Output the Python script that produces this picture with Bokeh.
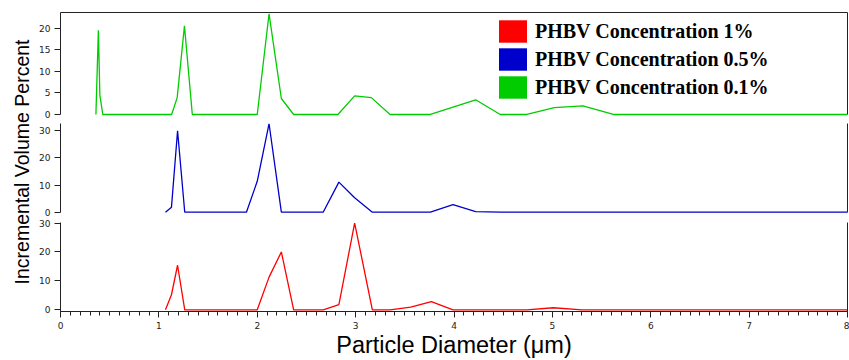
import numpy as np
from bokeh.plotting import figure
from bokeh.models import (Range1d, LinearAxis, FixedTicker, SingleIntervalTicker,
                          Legend, LegendItem, ColumnDataSource)
from bokeh.layouts import column, row
from bokeh.embed import file_html
from bokeh.resources import INLINE

# ---- data ----
green_x = [0.36, 0.385, 0.40, 0.43, 1.13, 1.186, 1.26, 1.34, 2.0, 2.12, 2.245, 2.37,
           2.82, 2.99, 3.16, 3.35, 3.76, 4.22, 4.47, 4.74, 5.02, 5.31, 5.62, 8.0]
green_y = [0, 19.5, 4.5, 0, 0, 3.9, 20.5, 0, 0, 23.3, 3.7, 0,
           0, 4.3, 3.9, 0, 0, 3.4, 0, 0, 1.6, 2.0, 0, 0]

blue_x = [1.067, 1.128, 1.19, 1.263, 1.89, 2.0, 2.12, 2.245, 2.67, 2.83, 2.99, 3.17,
          3.76, 3.99, 4.22, 4.47, 8.0]
blue_y = [0, 1.8, 30, 0, 0, 11.4, 32.6, 0, 0, 11.1, 5.3, 0,
          0, 2.8, 0.2, 0, 0]

red_x = [1.067, 1.128, 1.19, 1.263, 2.0, 2.12, 2.245, 2.37, 2.67, 2.83, 2.99, 3.17,
         3.35, 3.56, 3.77, 3.99, 4.74, 5.01, 5.30, 8.0]
red_y = [0, 5.2, 15.4, 0, 0, 11.3, 20.0, 0, 0, 1.8, 30.0, 0,
         0, 0.9, 2.8, 0, 0, 0.7, 0, 0]

series_labels = ["PHBV Concentration 1%", "PHBV Concentration 0.5%", "PHBV Concentration 0.1%"]
series_colors = ["#ff0000", "#0000cc", "#00cc00"]

top_ticks = [0, 5, 10, 15, 20]
mid_ticks = [0, 10, 20, 30]
bot_ticks = [0, 10, 20, 30]

TOTAL_W = 849
LABEL_W = 36
W = TOTAL_W - LABEL_W
LB = 24
RB = 2
AXC = "#222222"
TICK_FONT = "DejaVu Sans"
TICK_SIZE = "9px"
x_range = Range1d(0, 8)


def empty_axis(bounds="auto"):
    return LinearAxis(ticker=FixedTicker(ticks=[]), axis_line_color=AXC, bounds=bounds,
                      major_tick_line_color=None, minor_tick_line_color=None,
                      major_label_text_font_size="0px", major_label_standoff=0)


def base_fig(height, y_range, top, bottom, bounds="auto"):
    p = figure(width=W, height=height, x_range=x_range, y_range=y_range,
               output_backend="svg", toolbar_location=None,
               min_border_left=LB, min_border_right=RB,
               min_border_top=top, min_border_bottom=bottom,
               x_axis_location=None, y_axis_location="left")
    p.grid.visible = False
    p.outline_line_color = None
    yax = p.yaxis[0]
    yax.bounds = bounds
    yax.axis_line_color = AXC
    yax.major_tick_line_color = AXC
    yax.major_tick_out = 6
    yax.major_tick_in = 0
    yax.minor_tick_line_color = None
    yax.major_label_text_font = TICK_FONT
    yax.major_label_text_font_size = TICK_SIZE
    yax.major_label_text_color = AXC
    yax.major_label_standoff = 4
    p.add_layout(empty_axis(bounds), "right")
    return p


# y-axis title column
p_lab = figure(width=LABEL_W, height=360, x_range=Range1d(0, 1), y_range=Range1d(0, 1),
               output_backend="svg", toolbar_location=None,
               min_border_left=34, min_border_right=0, min_border_top=12, min_border_bottom=49,
               x_axis_location=None, y_axis_location="left")
p_lab.grid.visible = False
p_lab.outline_line_color = None
ylab = p_lab.yaxis[0]
ylab.ticker = FixedTicker(ticks=[])
ylab.axis_line_color = None
ylab.major_tick_line_color = None
ylab.minor_tick_line_color = None
ylab.major_label_text_font_size = "0px"
ylab.major_label_standoff = 0
ylab.axis_label = "Incremental Volume Percent"
ylab.axis_label_text_font = "Liberation Sans"
ylab.axis_label_text_font_size = "19.5px"
ylab.axis_label_text_font_style = "normal"
ylab.axis_label_text_color = "black"
ylab.axis_label_standoff = 2

# top panel (0.1%)
TOP_END = 23.6
p_top = base_fig(120, Range1d(-1.39, TOP_END), 12, 0, bounds=(0, TOP_END))
p_top.yaxis[0].ticker = FixedTicker(ticks=top_ticks)
p_top.add_layout(empty_axis(), "above")
p_top.line(green_x, green_y, line_color=series_colors[2], line_width=1.3)

# legend swatches (renderers without visible marks)
items = []
for lab, col in zip(series_labels, series_colors):
    nan = np.array([np.nan])
    r = p_top.quad(source=ColumnDataSource(dict(l=nan, r=nan, t=nan, b=nan)),
                   left="l", right="r", top="t", bottom="b",
                   fill_color=col, line_color=None)
    items.append(LegendItem(label=lab, renderers=[r]))
legend = Legend(items=items, location=(435, 19),
                glyph_width=35, glyph_height=28, label_height=28, spacing=0,
                padding=0, margin=0, label_standoff=5,
                label_text_font="Liberation Serif", label_text_font_style="bold",
                label_text_font_size="20px", label_text_color="black",
                border_line_color=None, background_fill_alpha=0)
p_top.add_layout(legend, "center")

# middle panel (0.5%)
MID_END = 32.69
p_mid = base_fig(97, Range1d(-1.95, MID_END), 3, 0, bounds=(0, MID_END))
p_mid.yaxis[0].ticker = FixedTicker(ticks=mid_ticks)
p_mid.line(blue_x, blue_y, line_color=series_colors[1], line_width=1.3)

# bottom panel (1%)
p_bot = base_fig(143, Range1d(-0.59, 30.18), 5, 49)
p_bot.yaxis[0].ticker = FixedTicker(ticks=bot_ticks)
xax = LinearAxis(ticker=SingleIntervalTicker(interval=1, num_minor_ticks=10))
xax.axis_line_color = AXC
xax.major_tick_line_color = AXC
xax.minor_tick_line_color = AXC
xax.major_tick_out = 6
xax.major_tick_in = 0
xax.minor_tick_out = 4
xax.minor_tick_in = 0
xax.major_label_text_font = TICK_FONT
xax.major_label_text_font_size = TICK_SIZE
xax.major_label_text_color = AXC
xax.major_label_standoff = 4
xax.axis_label = "Particle Diameter (\u03bcm)"
xax.axis_label_text_font = "Liberation Sans"
xax.axis_label_text_font_size = "23.5px"
xax.axis_label_text_font_style = "normal"
xax.axis_label_text_color = "black"
xax.axis_label_standoff = 0
p_bot.add_layout(xax, "below")
p_bot.line(red_x, red_y, line_color=series_colors[0], line_width=1.3)

layout = row(p_lab, column(p_top, p_mid, p_bot, spacing=0), spacing=0)

open("out.html", "w").write(file_html(layout, INLINE))
